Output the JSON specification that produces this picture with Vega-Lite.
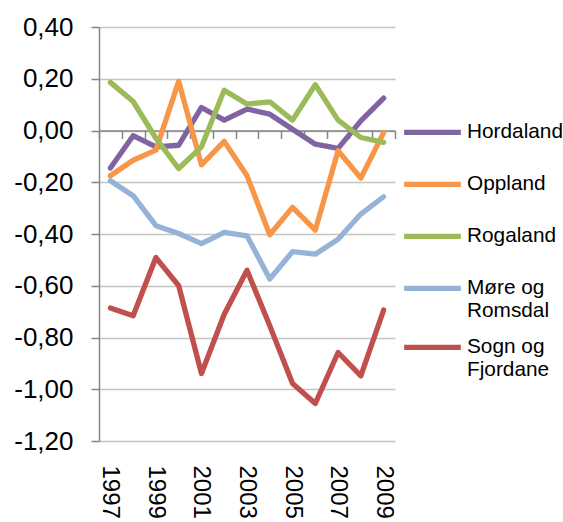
{
  "$schema": "https://vega.github.io/schema/vega-lite/v6.json",
  "width": 296,
  "height": 414,
  "autosize": {"type": "none"},
  "padding": {"left": 99, "top": 27, "right": 168, "bottom": 81},
  "background": "white",
  "config": {
    "view": {"stroke": null},
    "font": "Liberation Sans"
  },
  "data": {
    "values": [
      {"year": 1997, "region": "Hordaland", "value": -0.145},
      {"year": 1998, "region": "Hordaland", "value": -0.02},
      {"year": 1999, "region": "Hordaland", "value": -0.063},
      {"year": 2000, "region": "Hordaland", "value": -0.057},
      {"year": 2001, "region": "Hordaland", "value": 0.089},
      {"year": 2002, "region": "Hordaland", "value": 0.04},
      {"year": 2003, "region": "Hordaland", "value": 0.083},
      {"year": 2004, "region": "Hordaland", "value": 0.063},
      {"year": 2005, "region": "Hordaland", "value": 0.005},
      {"year": 2006, "region": "Hordaland", "value": -0.053},
      {"year": 2007, "region": "Hordaland", "value": -0.069},
      {"year": 2008, "region": "Hordaland", "value": 0.037},
      {"year": 2009, "region": "Hordaland", "value": 0.125},
      {"year": 1997, "region": "Oppland", "value": -0.175},
      {"year": 1998, "region": "Oppland", "value": -0.115},
      {"year": 1999, "region": "Oppland", "value": -0.076},
      {"year": 2000, "region": "Oppland", "value": 0.19},
      {"year": 2001, "region": "Oppland", "value": -0.133},
      {"year": 2002, "region": "Oppland", "value": -0.042},
      {"year": 2003, "region": "Oppland", "value": -0.175},
      {"year": 2004, "region": "Oppland", "value": -0.403},
      {"year": 2005, "region": "Oppland", "value": -0.297},
      {"year": 2006, "region": "Oppland", "value": -0.385},
      {"year": 2007, "region": "Oppland", "value": -0.078},
      {"year": 2008, "region": "Oppland", "value": -0.184},
      {"year": 2009, "region": "Oppland", "value": -0.008},
      {"year": 1997, "region": "Rogaland", "value": 0.186},
      {"year": 1998, "region": "Rogaland", "value": 0.112},
      {"year": 1999, "region": "Rogaland", "value": -0.03},
      {"year": 2000, "region": "Rogaland", "value": -0.147},
      {"year": 2001, "region": "Rogaland", "value": -0.063},
      {"year": 2002, "region": "Rogaland", "value": 0.156},
      {"year": 2003, "region": "Rogaland", "value": 0.102},
      {"year": 2004, "region": "Rogaland", "value": 0.111},
      {"year": 2005, "region": "Rogaland", "value": 0.04},
      {"year": 2006, "region": "Rogaland", "value": 0.177},
      {"year": 2007, "region": "Rogaland", "value": 0.04},
      {"year": 2008, "region": "Rogaland", "value": -0.027},
      {"year": 2009, "region": "Rogaland", "value": -0.046},
      {"year": 1997, "region": "Møre og Romsdal", "value": -0.194},
      {"year": 1998, "region": "Møre og Romsdal", "value": -0.252},
      {"year": 1999, "region": "Møre og Romsdal", "value": -0.368},
      {"year": 2000, "region": "Møre og Romsdal", "value": -0.398},
      {"year": 2001, "region": "Møre og Romsdal", "value": -0.437},
      {"year": 2002, "region": "Møre og Romsdal", "value": -0.394},
      {"year": 2003, "region": "Møre og Romsdal", "value": -0.407},
      {"year": 2004, "region": "Møre og Romsdal", "value": -0.574},
      {"year": 2005, "region": "Møre og Romsdal", "value": -0.468},
      {"year": 2006, "region": "Møre og Romsdal", "value": -0.478},
      {"year": 2007, "region": "Møre og Romsdal", "value": -0.42},
      {"year": 2008, "region": "Møre og Romsdal", "value": -0.323},
      {"year": 2009, "region": "Møre og Romsdal", "value": -0.256},
      {"year": 1997, "region": "Sogn og Fjordane", "value": -0.686},
      {"year": 1998, "region": "Sogn og Fjordane", "value": -0.716},
      {"year": 1999, "region": "Sogn og Fjordane", "value": -0.491},
      {"year": 2000, "region": "Sogn og Fjordane", "value": -0.6},
      {"year": 2001, "region": "Sogn og Fjordane", "value": -0.939},
      {"year": 2002, "region": "Sogn og Fjordane", "value": -0.71},
      {"year": 2003, "region": "Sogn og Fjordane", "value": -0.54},
      {"year": 2004, "region": "Sogn og Fjordane", "value": -0.755},
      {"year": 2005, "region": "Sogn og Fjordane", "value": -0.978},
      {"year": 2006, "region": "Sogn og Fjordane", "value": -1.055},
      {"year": 2007, "region": "Sogn og Fjordane", "value": -0.858},
      {"year": 2008, "region": "Sogn og Fjordane", "value": -0.948},
      {"year": 2009, "region": "Sogn og Fjordane", "value": -0.694}
    ]
  },
  "resolve": {"axis": {"x": "independent"}},
  "layer": [
    {
      "mark": {"type": "line", "strokeOpacity": 0},
      "encoding": {
        "x": {
          "field": "year",
          "type": "ordinal",
          "scale": {"type": "band", "paddingInner": 0, "paddingOuter": 0},
          "axis": {
            "orient": "bottom",
            "title": null,
            "labels": false,
            "offset": -310.5,
            "domainColor": "#868686",
            "domainWidth": 1.5,
            "tickColor": "#868686",
            "tickWidth": 1.5,
            "tickSize": 8,
            "tickBand": "extent",
            "grid": false
          }
        },
        "y": {
          "field": "value",
          "type": "quantitative",
          "scale": {"domain": [-1.2, 0.4], "nice": false, "zero": false},
          "axis": {
            "title": null,
            "values": [-1.2, -1.0, -0.8, -0.6, -0.4, -0.2, 0, 0.2, 0.4],
            "labelExpr": "replace(replace(format(datum.value, '.2f'), '.', ','), '\u2212', '-')",
            "labelFontSize": 26,
            "labelColor": "#000000",
            "labelPadding": 18,
            "tickSize": 8,
            "tickColor": "#868686",
            "tickWidth": 1.5,
            "domainColor": "#868686",
            "domainWidth": 1.5,
            "grid": true,
            "gridColor": "#C4C4C4",
            "gridWidth": 1.4
          }
        },
        "detail": {"field": "region"}
      }
    },
    {
      "mark": {"type": "line", "strokeWidth": 5.3, "strokeCap": "round", "strokeJoin": "round"},
      "encoding": {
        "x": {
          "field": "year",
          "type": "ordinal",
          "scale": {"type": "band", "paddingInner": 0, "paddingOuter": 0},
          "axis": {
            "orient": "bottom",
            "title": null,
            "domain": false,
            "ticks": false,
            "grid": false,
            "labelAngle": 90,
            "labelAlign": "left",
            "labelBaseline": "middle",
            "labelFontSize": 24,
            "labelColor": "#000000",
            "labelPadding": 24,
            "labelExpr": "datum.value % 2 == 1 ? datum.label : ''"
          }
        },
        "y": {
          "field": "value",
          "type": "quantitative",
          "scale": {"domain": [-1.2, 0.4], "nice": false, "zero": false},
          "axis": {
            "title": null,
            "values": [-1.2, -1.0, -0.8, -0.6, -0.4, -0.2, 0, 0.2, 0.4],
            "labelExpr": "replace(replace(format(datum.value, '.2f'), '.', ','), '\u2212', '-')",
            "labelFontSize": 26,
            "labelColor": "#000000",
            "labelPadding": 18,
            "tickSize": 8,
            "tickColor": "#868686",
            "tickWidth": 1.5,
            "domainColor": "#868686",
            "domainWidth": 1.5,
            "grid": true,
            "gridColor": "#C4C4C4",
            "gridWidth": 1.4
          }
        },
        "color": {
          "field": "region",
          "type": "nominal",
          "sort": ["Hordaland", "Oppland", "Rogaland", "Møre og Romsdal", "Sogn og Fjordane"],
          "scale": {
            "domain": ["Hordaland", "Oppland", "Rogaland", "Møre og Romsdal", "Sogn og Fjordane"],
            "range": ["#8064A2", "#F79646", "#9BBB59", "#95B3D7", "#C0504D"]
          },
          "legend": {
            "title": null,
            "orient": "none",
            "legendX": 302,
            "legendY": 79.7,
            "padding": 0,
            "clipHeight": 51.3,
            "symbolType": "stroke",
            "symbolSize": 3215,
            "symbolStrokeWidth": 5.3,
            "rowPadding": 0,
            "labelOffset": 3,
            "labelFontSize": 20.8,
            "labelLineHeight": 22.4,
            "labelColor": "#000000",
            "labelLimit": 200,
            "labelExpr": "datum.label == 'Møre og Romsdal' ? ['Møre og', 'Romsdal'] : datum.label == 'Sogn og Fjordane' ? ['Sogn og', 'Fjordane'] : datum.label"
          }
        }
      }
    }
  ]
}
